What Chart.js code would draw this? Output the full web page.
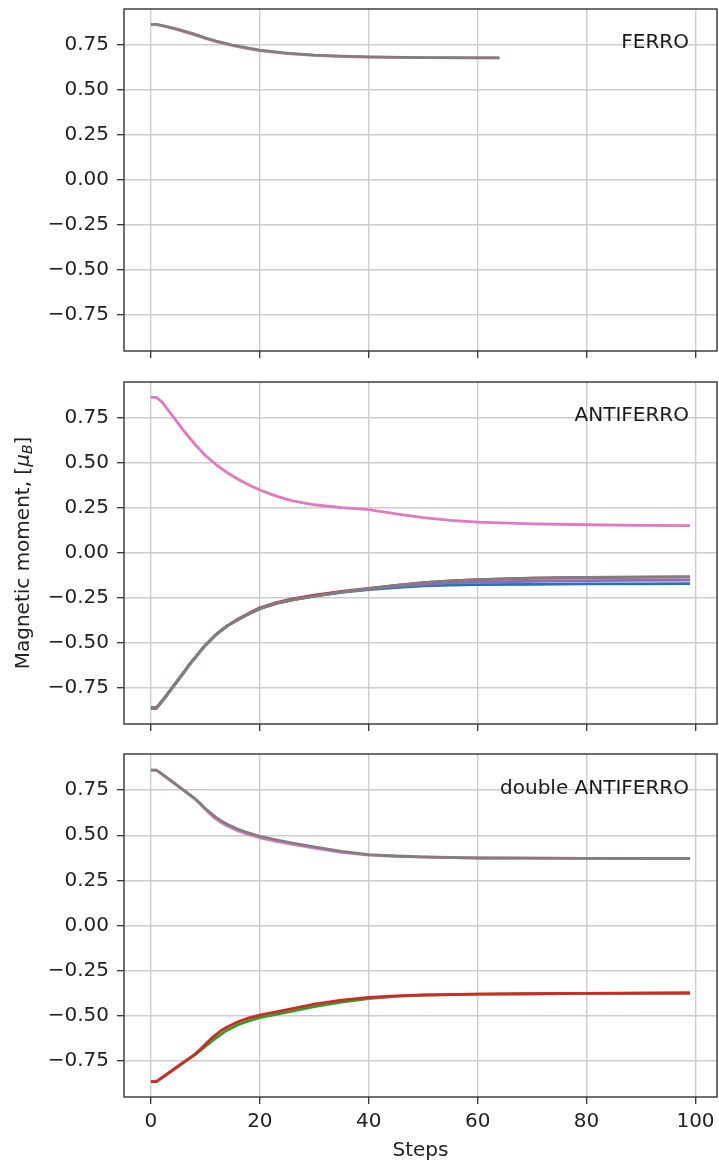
<!DOCTYPE html>
<html>
<head>
<meta charset="utf-8">
<script src="https://cdn.jsdelivr.net/npm/chart.js@4.4.1/dist/chart.umd.min.js"></script>
<style>
  body { margin: 0; background: #fff; }
  #fig { position: relative; width: 719px; height: 1163px; }
  #fig canvas { position: absolute; left: 0; }
</style>
</head>
<body>
<div id="fig">
  <canvas id="ferro" width="719" height="370" style="top:0px"></canvas>
  <canvas id="anti" width="719" height="370" style="top:370px"></canvas>
  <canvas id="double" width="719" height="423" style="top:740px"></canvas>
</div>
<script>
// tick labels
const xTicks = [0, 20, 40, 60, 80, 100];
const yTicks = [-0.75, -0.5, -0.25, 0, 0.25, 0.5, 0.75];

// FERRO panel
const ferroSteps = [0, 1, 3, 5, 8, 10, 12, 15, 18, 20, 25, 30, 35, 40, 50, 64];
const ferroGray = [0.865, 0.865, 0.852, 0.837, 0.810, 0.790, 0.772, 0.750, 0.732, 0.722, 0.705, 0.694, 0.688, 0.684, 0.680, 0.678];
const ferroPink = [0.865, 0.865, 0.850, 0.834, 0.806, 0.786, 0.768, 0.746, 0.729, 0.719, 0.702, 0.692, 0.686, 0.683, 0.680, 0.678];

// ANTIFERRO panel
const antiSteps = [0, 1, 2, 3, 4, 5, 6, 7, 8, 9, 10, 12, 14, 16, 18, 20, 23, 26, 30, 35, 40, 45, 50, 55, 60, 70, 80, 90, 99];
const antiPink = [0.865, 0.865, 0.840, 0.800, 0.760, 0.720, 0.680, 0.643, 0.607, 0.573, 0.542, 0.490, 0.447, 0.410, 0.378, 0.350, 0.316, 0.290, 0.268, 0.252, 0.241, 0.218, 0.196, 0.181, 0.171, 0.162, 0.157, 0.154, 0.152];
const antiGray = [-0.861, -0.861, -0.825, -0.785, -0.745, -0.705, -0.665, -0.622, -0.585, -0.548, -0.512, -0.452, -0.405, -0.370, -0.338, -0.309, -0.280, -0.260, -0.239, -0.217, -0.198, -0.180, -0.165, -0.155, -0.148, -0.140, -0.136, -0.134, -0.133];
const antiRed = [-0.861, -0.861, -0.825, -0.785, -0.745, -0.705, -0.665, -0.622, -0.585, -0.548, -0.512, -0.452, -0.405, -0.367, -0.334, -0.304, -0.275, -0.255, -0.234, -0.213, -0.196, -0.180, -0.165, -0.155, -0.148, -0.140, -0.136, -0.134, -0.133];
const antiPurple = [-0.861, -0.861, -0.825, -0.785, -0.745, -0.705, -0.665, -0.622, -0.585, -0.548, -0.512, -0.452, -0.405, -0.370, -0.338, -0.309, -0.280, -0.260, -0.239, -0.217, -0.200, -0.186, -0.174, -0.166, -0.162, -0.157, -0.154, -0.152, -0.151];
const antiBlue = [-0.861, -0.861, -0.825, -0.785, -0.745, -0.705, -0.665, -0.622, -0.585, -0.548, -0.512, -0.452, -0.405, -0.370, -0.338, -0.309, -0.280, -0.260, -0.239, -0.218, -0.203, -0.192, -0.183, -0.178, -0.176, -0.174, -0.172, -0.171, -0.170];

// double ANTIFERRO panel
const dblSteps = [0, 1, 2, 4, 6, 8, 9, 10, 11, 12, 13, 14, 16, 18, 20, 23, 26, 30, 35, 40, 45, 50, 60, 70, 80, 99];
const dblGray = [0.861, 0.861, 0.840, 0.795, 0.750, 0.705, 0.678, 0.648, 0.622, 0.598, 0.578, 0.561, 0.533, 0.512, 0.494, 0.475, 0.457, 0.435, 0.411, 0.393, 0.385, 0.380, 0.374, 0.373, 0.372, 0.371];
const dblPink = [0.861, 0.861, 0.838, 0.793, 0.748, 0.702, 0.673, 0.642, 0.613, 0.588, 0.568, 0.551, 0.524, 0.503, 0.486, 0.466, 0.449, 0.428, 0.405, 0.390, 0.383, 0.379, 0.374, 0.373, 0.372, 0.371];
const dblRed = [-0.865, -0.865, -0.843, -0.800, -0.757, -0.715, -0.688, -0.658, -0.628, -0.603, -0.580, -0.562, -0.533, -0.512, -0.496, -0.478, -0.460, -0.435, -0.413, -0.398, -0.390, -0.385, -0.380, -0.378, -0.376, -0.374];
const dblGreen = [-0.865, -0.865, -0.845, -0.802, -0.760, -0.718, -0.695, -0.670, -0.645, -0.622, -0.600, -0.580, -0.550, -0.528, -0.510, -0.492, -0.474, -0.449, -0.424, -0.405, -0.393, -0.386, -0.380, -0.378, -0.376, -0.374];

const C = {
  blue: '#1f77b4', green: '#2ca02c', red: '#d62728', purple: '#9467bd',
  pink: '#e377c2', gray: '#7f7f7f'
};

Chart.defaults.font.family = 'DejaVu Sans';
Chart.defaults.font.size = 20;
Chart.defaults.color = '#222';

function series(steps, values, color) {
  return {
    data: steps.map((s, i) => ({ x: s, y: values[i] })),
    borderColor: color,
    borderWidth: 2.8,
    borderJoinStyle: 'round',
    pointRadius: 0,
    tension: 0,
    fill: false
  };
}

// box round the plot area, like matplotlib spines
const framePlugin = {
  id: 'frame',
  afterDraw(chart) {
    const { ctx, chartArea: a } = chart;
    ctx.save();
    ctx.strokeStyle = '#333';
    ctx.lineWidth = 1.4;
    ctx.strokeRect(a.left, a.top, a.right - a.left, a.bottom - a.top);
    ctx.restore();
  }
};

// panel name in the upper right corner
const panelLabel = {
  id: 'panelLabel',
  afterDraw(chart, args, opts) {
    if (!opts.text) return;
    const { ctx, chartArea: a, scales } = chart;
    ctx.save();
    ctx.font = '20px DejaVu Sans';
    ctx.fillStyle = '#1a1a1a';
    ctx.textAlign = 'right';
    ctx.textBaseline = 'middle';
    ctx.fillText(opts.text, a.right - 28, scales.y.getPixelForValue(0.76));
    ctx.restore();
  }
};

// y axis label with mathtext-like mu_B
const yLabel = {
  id: 'yLabel',
  afterDraw(chart, args, opts) {
    if (!opts.show) return;
    const { ctx, chartArea: a } = chart;
    const size = 20;
    const parts = [
      { t: 'Magnetic moment, [', f: size + 'px DejaVu Sans', dy: 0 },
      { t: 'μ', f: 'italic ' + size + 'px DejaVu Sans', dy: 0 },
      { t: 'B', f: 'italic ' + Math.round(size * 0.7) + 'px DejaVu Sans', dy: size * 0.22 },
      { t: ']', f: size + 'px DejaVu Sans', dy: 0 }
    ];
    ctx.save();
    let total = 0;
    parts.forEach(p => { ctx.font = p.f; p.w = ctx.measureText(p.t).width; total += p.w; });
    ctx.translate(24, (a.top + a.bottom) / 2);
    ctx.rotate(-Math.PI / 2);
    ctx.fillStyle = '#222';
    ctx.textBaseline = 'middle';
    let x = -total / 2;
    parts.forEach(p => { ctx.font = p.f; ctx.fillText(p.t, x, p.dy); x += p.w; });
    ctx.restore();
  }
};

function makePanel(id, datasets, opts) {
  return new Chart(document.getElementById(id), {
    type: 'line',
    data: { datasets: datasets },
    options: {
      responsive: false,
      animation: false,
      devicePixelRatio: 1,
      layout: { padding: { top: opts.top, right: 2, left: 0, bottom: 0 } },
      plugins: {
        legend: { display: false },
        tooltip: { enabled: false },
        panelLabel: { text: opts.label },
        yLabel: { show: !!opts.ylabel }
      },
      scales: {
        x: {
          type: 'linear',
          min: -4.95,
          max: 103.95,
          afterBuildTicks: s => { s.ticks = xTicks.map(v => ({ value: v })); },
          afterFit: s => { s.height = opts.xHeight; s.paddingLeft = 0; s.paddingRight = 0; },
          ticks: { display: !!opts.xlabels, padding: 6, maxRotation: 0, autoSkip: false },
          grid: { color: '#cccccc', lineWidth: 1.4, tickColor: '#333', tickLength: 7, tickWidth: 1.3 },
          border: { display: false },
          title: {
            display: !!opts.xlabels,
            text: 'Steps',
            font: { size: 20 },
            padding: { top: 0, bottom: 0 }
          }
        },
        y: {
          min: -0.95,
          max: 0.95,
          afterBuildTicks: s => { s.ticks = yTicks.map(v => ({ value: v })); },
          afterFit: s => { s.width = 124; s.paddingTop = 0; s.paddingBottom = 0; },
          ticks: {
            padding: 8,
            autoSkip: false,
            callback: v => v.toFixed(2).replace('-', '\u2212')
          },
          grid: { color: '#cccccc', lineWidth: 1.4, tickColor: '#333', tickLength: 7, tickWidth: 1.3 },
          border: { display: false }
        }
      }
    },
    plugins: [framePlugin, panelLabel, yLabel]
  });
}

// first dataset is drawn on top
makePanel('ferro', [
  series(ferroSteps, ferroGray, C.gray),
  series(ferroSteps, ferroPink, C.pink)
], { top: 9, xHeight: 19, label: 'FERRO' });

makePanel('anti', [
  series(antiSteps, antiPink, C.pink),
  series(antiSteps, antiGray, C.gray),
  series(antiSteps, antiPurple, C.purple),
  series(antiSteps, antiRed, C.red),
  series(antiSteps, antiBlue, C.blue)
], { top: 12, xHeight: 16, label: 'ANTIFERRO', ylabel: true });

makePanel('double', [
  series(dblSteps, dblGray, C.gray),
  series(dblSteps, dblPink, C.pink),
  series(dblSteps, dblRed, C.red),
  series(dblSteps, dblGreen, C.green)
], { top: 14, xHeight: 66, label: 'double ANTIFERRO', xlabels: true });
</script>
</body>
</html>
